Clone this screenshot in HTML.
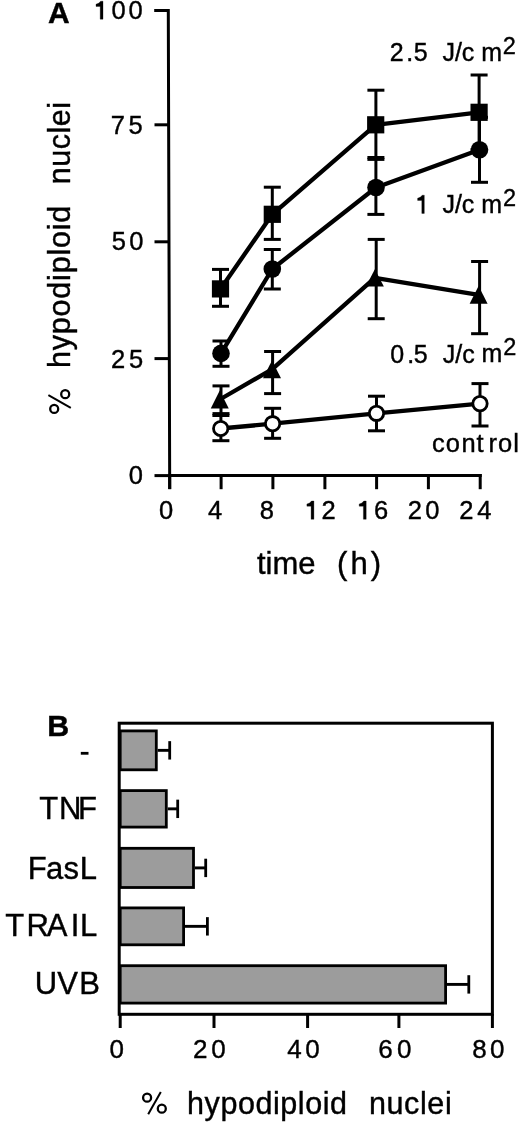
<!DOCTYPE html>
<html><head><meta charset="utf-8"><style>
html,body{margin:0;padding:0;background:#fff;}
svg{display:block;}
text{font-family:"Liberation Sans",sans-serif;fill:#000;stroke:#000;stroke-width:0.4px;}
svg{will-change:transform;}
</style></head><body>
<svg width="520" height="1124" viewBox="0 0 520 1124">
<rect width="520" height="1124" fill="#fff"/>
<path d="M154.2 10.4 H168.3 L169.7 489" fill="none" stroke="#000" stroke-width="3"/>
<line x1="154.50" y1="124.80" x2="169.50" y2="124.80" stroke="#000" stroke-width="3"/>
<line x1="154.50" y1="241.80" x2="169.50" y2="241.80" stroke="#000" stroke-width="3"/>
<line x1="154.50" y1="358.60" x2="169.50" y2="358.60" stroke="#000" stroke-width="3"/>
<line x1="154.50" y1="475.60" x2="169.50" y2="475.60" stroke="#000" stroke-width="3"/>
<line x1="168.00" y1="475.50" x2="481.70" y2="475.60" stroke="#000" stroke-width="3"/>
<line x1="169.70" y1="474.00" x2="169.70" y2="489.20" stroke="#000" stroke-width="3"/>
<line x1="221.10" y1="474.00" x2="221.10" y2="489.20" stroke="#000" stroke-width="3"/>
<line x1="272.90" y1="474.00" x2="272.90" y2="489.20" stroke="#000" stroke-width="3"/>
<line x1="324.90" y1="474.00" x2="324.90" y2="489.20" stroke="#000" stroke-width="3"/>
<line x1="376.60" y1="474.00" x2="376.60" y2="489.20" stroke="#000" stroke-width="3"/>
<line x1="428.40" y1="474.00" x2="428.40" y2="489.20" stroke="#000" stroke-width="3"/>
<line x1="480.20" y1="474.00" x2="480.20" y2="489.20" stroke="#000" stroke-width="3"/>
<line x1="220.50" y1="269.40" x2="220.50" y2="306.30" stroke="#000" stroke-width="3"/>
<line x1="212.00" y1="269.40" x2="229.00" y2="269.40" stroke="#000" stroke-width="3"/>
<line x1="212.00" y1="306.30" x2="229.00" y2="306.30" stroke="#000" stroke-width="3"/>
<line x1="272.30" y1="187.20" x2="272.30" y2="239.40" stroke="#000" stroke-width="3"/>
<line x1="263.80" y1="187.20" x2="280.80" y2="187.20" stroke="#000" stroke-width="3"/>
<line x1="263.80" y1="239.40" x2="280.80" y2="239.40" stroke="#000" stroke-width="3"/>
<line x1="375.90" y1="90.20" x2="375.90" y2="157.50" stroke="#000" stroke-width="3"/>
<line x1="367.40" y1="90.20" x2="384.40" y2="90.20" stroke="#000" stroke-width="3"/>
<line x1="367.40" y1="157.50" x2="384.40" y2="157.50" stroke="#000" stroke-width="3"/>
<line x1="479.10" y1="75.00" x2="479.10" y2="149.50" stroke="#000" stroke-width="3"/>
<line x1="470.60" y1="75.00" x2="487.60" y2="75.00" stroke="#000" stroke-width="3"/>
<line x1="470.60" y1="149.50" x2="487.60" y2="149.50" stroke="#000" stroke-width="3"/>
<line x1="221.00" y1="341.00" x2="221.00" y2="366.30" stroke="#000" stroke-width="3"/>
<line x1="212.50" y1="341.00" x2="229.50" y2="341.00" stroke="#000" stroke-width="3"/>
<line x1="212.50" y1="366.30" x2="229.50" y2="366.30" stroke="#000" stroke-width="3"/>
<line x1="272.30" y1="249.50" x2="272.30" y2="289.00" stroke="#000" stroke-width="3"/>
<line x1="263.80" y1="249.50" x2="280.80" y2="249.50" stroke="#000" stroke-width="3"/>
<line x1="263.80" y1="289.00" x2="280.80" y2="289.00" stroke="#000" stroke-width="3"/>
<line x1="375.90" y1="159.40" x2="375.90" y2="214.40" stroke="#000" stroke-width="3"/>
<line x1="367.40" y1="159.40" x2="384.40" y2="159.40" stroke="#000" stroke-width="3"/>
<line x1="367.40" y1="214.40" x2="384.40" y2="214.40" stroke="#000" stroke-width="3"/>
<line x1="479.50" y1="117.30" x2="479.50" y2="182.30" stroke="#000" stroke-width="3"/>
<line x1="471.00" y1="117.30" x2="488.00" y2="117.30" stroke="#000" stroke-width="3"/>
<line x1="471.00" y1="182.30" x2="488.00" y2="182.30" stroke="#000" stroke-width="3"/>
<line x1="221.00" y1="385.90" x2="221.00" y2="413.60" stroke="#000" stroke-width="3"/>
<line x1="212.50" y1="385.90" x2="229.50" y2="385.90" stroke="#000" stroke-width="3"/>
<line x1="212.50" y1="413.60" x2="229.50" y2="413.60" stroke="#000" stroke-width="3"/>
<line x1="272.60" y1="351.50" x2="272.60" y2="393.60" stroke="#000" stroke-width="3"/>
<line x1="264.10" y1="351.50" x2="281.10" y2="351.50" stroke="#000" stroke-width="3"/>
<line x1="264.10" y1="393.60" x2="281.10" y2="393.60" stroke="#000" stroke-width="3"/>
<line x1="376.20" y1="239.40" x2="376.20" y2="318.70" stroke="#000" stroke-width="3"/>
<line x1="367.70" y1="239.40" x2="384.70" y2="239.40" stroke="#000" stroke-width="3"/>
<line x1="367.70" y1="318.70" x2="384.70" y2="318.70" stroke="#000" stroke-width="3"/>
<line x1="479.60" y1="261.50" x2="479.60" y2="333.70" stroke="#000" stroke-width="3"/>
<line x1="471.10" y1="261.50" x2="488.10" y2="261.50" stroke="#000" stroke-width="3"/>
<line x1="471.10" y1="333.70" x2="488.10" y2="333.70" stroke="#000" stroke-width="3"/>
<line x1="220.90" y1="415.50" x2="220.90" y2="440.70" stroke="#000" stroke-width="3"/>
<line x1="212.40" y1="415.50" x2="229.40" y2="415.50" stroke="#000" stroke-width="3"/>
<line x1="212.40" y1="440.70" x2="229.40" y2="440.70" stroke="#000" stroke-width="3"/>
<line x1="272.60" y1="408.30" x2="272.60" y2="438.30" stroke="#000" stroke-width="3"/>
<line x1="264.10" y1="408.30" x2="281.10" y2="408.30" stroke="#000" stroke-width="3"/>
<line x1="264.10" y1="438.30" x2="281.10" y2="438.30" stroke="#000" stroke-width="3"/>
<line x1="376.50" y1="396.20" x2="376.50" y2="430.80" stroke="#000" stroke-width="3"/>
<line x1="368.00" y1="396.20" x2="385.00" y2="396.20" stroke="#000" stroke-width="3"/>
<line x1="368.00" y1="430.80" x2="385.00" y2="430.80" stroke="#000" stroke-width="3"/>
<line x1="480.00" y1="383.60" x2="480.00" y2="426.00" stroke="#000" stroke-width="3"/>
<line x1="471.50" y1="383.60" x2="488.50" y2="383.60" stroke="#000" stroke-width="3"/>
<line x1="471.50" y1="426.00" x2="488.50" y2="426.00" stroke="#000" stroke-width="3"/>
<path d="M220.50 288.90 L272.30 214.30 L375.70 124.80 L479.10 112.30" fill="none" stroke="#000" stroke-width="4.3" stroke-linejoin="round"/>
<path d="M221.00 353.40 L272.30 269.00 L376.00 187.50 L479.50 149.80" fill="none" stroke="#000" stroke-width="4.3" stroke-linejoin="round"/>
<path d="M219.75 399.50 L272.00 369.35 L374.85 277.85 L478.60 294.90" fill="none" stroke="#000" stroke-width="4.3" stroke-linejoin="round"/>
<path d="M220.70 428.50 L272.60 423.70 L376.50 413.30 L480.00 403.60" fill="none" stroke="#000" stroke-width="4.3" stroke-linejoin="round"/>
<rect x="211.90" y="280.30" width="17.2" height="17.2" fill="#000"/>
<rect x="263.70" y="205.70" width="17.2" height="17.2" fill="#000"/>
<rect x="367.10" y="116.20" width="17.2" height="17.2" fill="#000"/>
<rect x="470.50" y="103.70" width="17.2" height="17.2" fill="#000"/>
<circle cx="221.00" cy="353.40" r="8.8" fill="#000"/>
<circle cx="272.30" cy="269.00" r="8.8" fill="#000"/>
<circle cx="376.00" cy="187.50" r="8.8" fill="#000"/>
<circle cx="479.50" cy="149.80" r="8.8" fill="#000"/>
<path d="M219.75 390.40 L228.75 408.60 L210.75 408.60 Z" fill="#000"/>
<path d="M272.00 360.40 L281.00 378.30 L263.00 378.30 Z" fill="#000"/>
<path d="M374.85 269.20 L383.85 286.50 L365.85 286.50 Z" fill="#000"/>
<path d="M478.60 286.10 L487.60 303.70 L469.60 303.70 Z" fill="#000"/>
<circle cx="220.70" cy="428.50" r="7.2" fill="#fff" stroke="#000" stroke-width="2.8"/>
<circle cx="272.60" cy="423.70" r="7.2" fill="#fff" stroke="#000" stroke-width="2.8"/>
<circle cx="376.50" cy="413.30" r="7.2" fill="#fff" stroke="#000" stroke-width="2.8"/>
<circle cx="480.00" cy="403.60" r="7.2" fill="#fff" stroke="#000" stroke-width="2.8"/>
<rect x="120.20" y="730.90" width="36.10" height="38.90" fill="#9c9c9c" stroke="#000" stroke-width="2.8"/>
<line x1="157.70" y1="750.35" x2="169.70" y2="750.35" stroke="#000" stroke-width="2.9"/>
<line x1="169.70" y1="741.15" x2="169.70" y2="759.55" stroke="#000" stroke-width="2.8"/>
<rect x="120.20" y="790.60" width="46.10" height="36.50" fill="#9c9c9c" stroke="#000" stroke-width="2.8"/>
<line x1="167.70" y1="808.85" x2="177.70" y2="808.85" stroke="#000" stroke-width="2.9"/>
<line x1="177.70" y1="799.65" x2="177.70" y2="818.05" stroke="#000" stroke-width="2.8"/>
<rect x="120.20" y="848.30" width="73.30" height="39.20" fill="#9c9c9c" stroke="#000" stroke-width="2.8"/>
<line x1="194.90" y1="867.90" x2="205.70" y2="867.90" stroke="#000" stroke-width="2.9"/>
<line x1="205.70" y1="858.70" x2="205.70" y2="877.10" stroke="#000" stroke-width="2.8"/>
<rect x="120.20" y="907.90" width="63.40" height="36.90" fill="#9c9c9c" stroke="#000" stroke-width="2.8"/>
<line x1="185.00" y1="926.35" x2="207.40" y2="926.35" stroke="#000" stroke-width="2.9"/>
<line x1="207.40" y1="917.15" x2="207.40" y2="935.55" stroke="#000" stroke-width="2.8"/>
<rect x="120.20" y="965.70" width="325.40" height="37.40" fill="#9c9c9c" stroke="#000" stroke-width="2.8"/>
<line x1="447.00" y1="984.40" x2="468.80" y2="984.40" stroke="#000" stroke-width="2.9"/>
<line x1="468.80" y1="975.20" x2="468.80" y2="993.60" stroke="#000" stroke-width="2.8"/>
<rect x="119.2" y="723.2" width="373.2" height="291.1" fill="none" stroke="#000" stroke-width="3"/>
<line x1="120.20" y1="1014" x2="120.20" y2="1028" stroke="#000" stroke-width="3"/>
<line x1="214.00" y1="1014" x2="214.00" y2="1028" stroke="#000" stroke-width="3"/>
<line x1="307.60" y1="1014" x2="307.60" y2="1028" stroke="#000" stroke-width="3"/>
<line x1="398.90" y1="1014" x2="398.90" y2="1028" stroke="#000" stroke-width="3"/>
<line x1="492.40" y1="1014" x2="492.40" y2="1028" stroke="#000" stroke-width="3"/>
<text x="48.05" y="22.80" font-size="30" font-weight="bold">A</text>
<path d="M103.00 1.20 L103.00 19.20 L100.20 19.20 L100.20 6.40 L96.00 6.40 L96.00 4.20 Q99.00 3.80 100.60 1.20 Z" fill="#000" stroke="#000" stroke-width="0.3"/>
<text x="111.40 128.60" y="19.15" font-size="25.5">00</text>
<text x="110.69 128.58" y="133.60" font-size="25.5">75</text>
<text x="111.78 129.30" y="250.35" font-size="25.5">50</text>
<text x="111.12 128.88" y="367.60" font-size="25.5">25</text>
<text x="128.80" y="484.25" font-size="25.5">0</text>
<text x="159.00" y="519.25" font-size="25.5">0</text>
<text x="208.01" y="519.25" font-size="25.5">4</text>
<text x="259.69" y="519.25" font-size="25.5">8</text>
<path d="M313.90 501.00 L313.90 519.30 L311.10 519.30 L311.10 506.20 L306.90 506.20 L306.90 504.00 Q309.90 503.60 311.50 501.00 Z" fill="#000" stroke="#000" stroke-width="0.3"/>
<text x="321.62" y="519.25" font-size="25.5">2</text>
<path d="M366.20 501.00 L366.20 519.30 L363.40 519.30 L363.40 506.20 L359.20 506.20 L359.20 504.00 Q362.20 503.60 363.80 501.00 Z" fill="#000" stroke="#000" stroke-width="0.3"/>
<text x="373.91" y="519.25" font-size="25.5">6</text>
<text x="407.72 425.30" y="519.25" font-size="25.5">20</text>
<text x="459.32 477.31" y="519.25" font-size="25.5">24</text>
<text x="256.93" y="573.50" font-size="31">time</text>
<text x="336.88" y="573.80" font-size="31" letter-spacing="3.2">(h)</text>
<g transform="translate(70.80,414.20) rotate(-90)" fill="none" stroke="#000" stroke-width="2.3"><circle cx="5.3" cy="-16.6" r="4.0"/><circle cx="20.0" cy="-5.6" r="4.0"/><line x1="6.4" y1="0" x2="19.0" y2="-22.4" stroke-width="2.0"/></g>
<text transform="translate(70.30,367.91) rotate(-90)" x="0" y="0" font-size="30.5" letter-spacing="0.78">hypodiploid</text>
<text transform="translate(70.30,184.33) rotate(-90)" x="0" y="0" font-size="30.5" letter-spacing="0.55">nuclei</text>
<text x="389.64 406.32 413.80" y="61.10" font-size="25">2.5</text>
<text x="442.41" y="60.80" font-size="25">J/c</text>
<text x="481.14" y="60.90" font-size="25">m</text>
<text x="502.82" y="53.60" font-size="23.5">2</text>
<path d="M424.30 195.20 L424.30 213.40 L421.80 213.40 L421.80 200.40 L417.60 200.40 L417.60 198.20 Q420.60 197.80 422.20 195.20 Z" fill="#000" stroke="#000" stroke-width="0.3"/>
<text x="442.41" y="213.40" font-size="25">J/c</text>
<text x="481.14" y="213.10" font-size="25">m</text>
<text x="502.92" y="205.90" font-size="23.5">2</text>
<text x="390.32 407.22 413.80" y="362.50" font-size="25">0.5</text>
<text x="442.71" y="362.50" font-size="25">J/c</text>
<text x="481.54" y="362.30" font-size="25">m</text>
<text x="503.22" y="355.20" font-size="23.5">2</text>
<text x="432.02 445.83 461.41 476.51 488.41 497.93 513.18" y="452.20" font-size="25.5">control</text>
<text x="47.37" y="736.40" font-size="30.4" font-weight="bold">B</text>
<rect x="80.8" y="751.9" width="7.7" height="2.8" fill="#000"/>
<text x="39.30 58.96 77.96" y="819.10" font-size="31">TNF</text>
<text x="27.76 45.98 63.54 79.66" y="878.50" font-size="31">FasL</text>
<text x="5.30 26.56 46.64 70.84 79.96" y="935.70" font-size="31">TRAIL</text>
<text x="34.81 57.36 79.16" y="994.00" font-size="31">UVB</text>
<text x="109.38" y="1057.80" font-size="26">0</text>
<text x="192.89 211.28" y="1057.80" font-size="26">20</text>
<text x="287.20 305.28" y="1057.80" font-size="26">40</text>
<text x="378.28 396.88" y="1057.80" font-size="26">60</text>
<text x="472.27 490.08" y="1057.80" font-size="26">80</text>
<g transform="translate(141.80,1114.30)" fill="none" stroke="#000" stroke-width="2.3"><circle cx="5.3" cy="-16.6" r="4.0"/><circle cx="20.0" cy="-5.6" r="4.0"/><line x1="6.4" y1="0" x2="19.0" y2="-22.4" stroke-width="2.0"/></g>
<text x="187.09" y="1113.70" font-size="30.5" letter-spacing="0.56">hypodiploid</text>
<text x="368.97" y="1113.70" font-size="30.5" letter-spacing="0.6">nuclei</text>
</svg></body></html>
